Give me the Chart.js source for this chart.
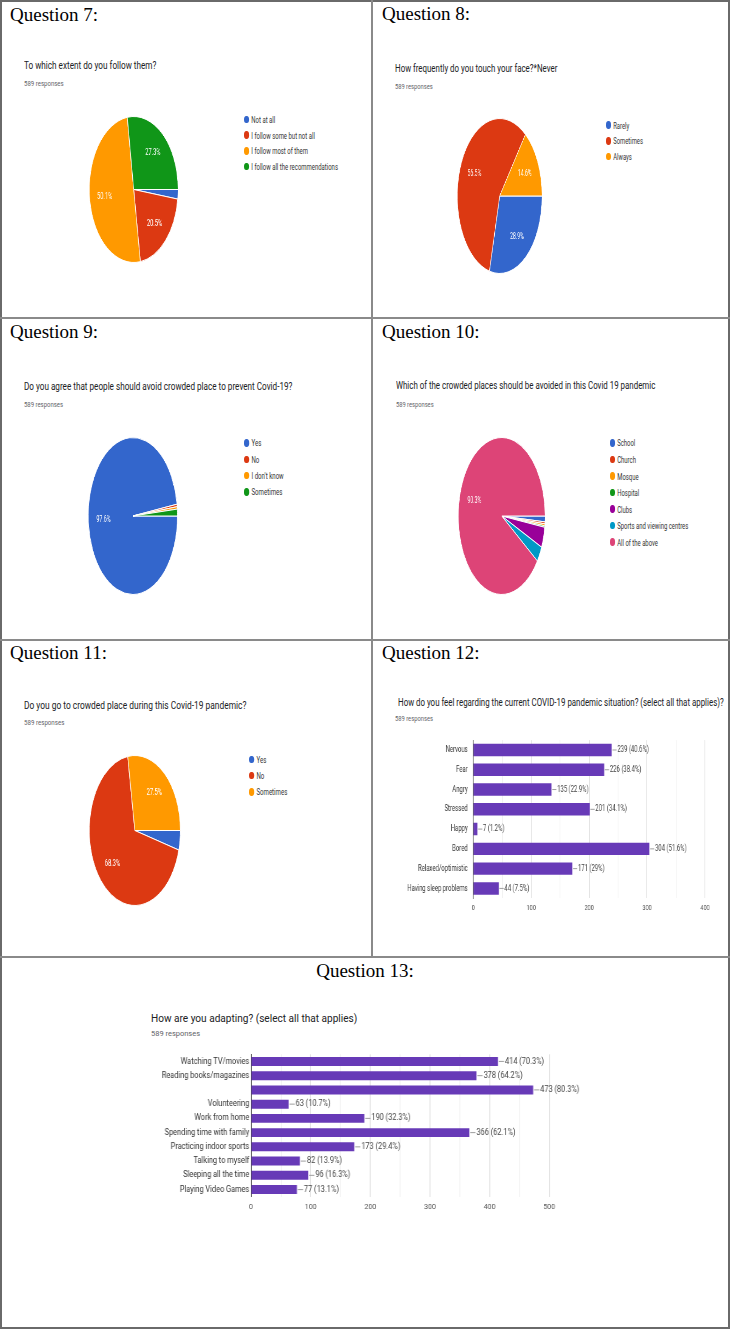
<!DOCTYPE html>
<html>
<head>
<meta charset="utf-8">
<script src="https://cdn.jsdelivr.net/npm/chart.js@4.4.1/dist/chart.umd.min.js"></script>
<style>
  body { margin: 0; background: #fff; }
  #page { position: relative; width: 730px; height: 1329px; overflow: hidden; font-family: Roboto, sans-serif; }
  .frame { position: absolute; left: 0; top: 0; width: 730px; height: 1329px; box-sizing: border-box; border: 2px solid #6a6a6a; }
  .line { position: absolute; background: #8a8a8a; }
  .q { position: absolute; font-family: "Liberation Serif", "Times New Roman", serif; font-size: 19px; line-height: 19px; color: #000; white-space: nowrap; }
  .t { position: absolute; white-space: nowrap; line-height: 1; transform-origin: 0 0; }
  .title { color: #202124; }
  .sub { color: #5f6368; }
  .legend { position: absolute; transform-origin: 0 0; color: #333; white-space: nowrap; }
  .legend .row { display: flex; align-items: center; }
  .legend .dot { width: 7.5px; height: 7.5px; border-radius: 50%; margin-right: 4px; flex: none; }
  .box { position: absolute; transform-origin: 0 0; }
</style>
</head>
<body>
<div id="page">
  <div class="frame"></div>
  <div class="line" style="left:371px; top:0; width:2px; height:958px;"></div>
  <div class="line" style="left:0; top:317px; width:730px; height:2px;"></div>
  <div class="line" style="left:0; top:639px; width:730px; height:2px;"></div>
  <div class="line" style="left:0; top:956px; width:730px; height:2px;"></div>

  <div class="q" style="left:10px; top:5px;">Question 7:</div>
  <div class="q" style="left:382px; top:4px;">Question 8:</div>
  <div class="q" style="left:10px; top:322px;">Question 9:</div>
  <div class="q" style="left:382px; top:322px;">Question 10:</div>
  <div class="q" style="left:10px; top:643px;">Question 11:</div>
  <div class="q" style="left:382px; top:643px;">Question 12:</div>
  <div class="q" style="left:0; top:961px; width:730px; text-align:center;">Question 13:</div>

  <div class="t title" data-w="132.4" style="left:24.3px; top:61.3px; font-size:10.3px;">To which extent do you follow them?</div>
  <div class="t sub" data-w="39.7" style="left:24.3px; top:80.5px; font-size:6.5px;">589 responses</div>
  <div class="t title" data-w="162.3" style="left:395px; top:62.9px; font-size:11.7px;">How frequently do you touch your face?*Never</div>
  <div class="t sub" data-w="37.7" style="left:395px; top:83px; font-size:7.5px;">589 responses</div>
  <div class="t title" data-w="268.4" style="left:24.3px; top:380.9px; font-size:11.7px;">Do you agree that people should avoid crowded place to prevent Covid-19?</div>
  <div class="t sub" data-w="39" style="left:24.3px; top:401px; font-size:7.5px;">589 responses</div>
  <div class="t title" data-w="259.3" style="left:395.7px; top:379.9px; font-size:11.7px;">Which of the crowded places should be avoided in this Covid 19 pandemic</div>
  <div class="t sub" data-w="37.6" style="left:395.7px; top:401px; font-size:7.5px;">589 responses</div>
  <div class="t title" data-w="222.4" style="left:24.3px; top:699.5px; font-size:11.3px;">Do you go to crowded place during this Covid-19 pandemic?</div>
  <div class="t sub" data-w="40.4" style="left:24.3px; top:720.1px; font-size:7px;">589 responses</div>
  <div class="t title" data-w="325.7" style="left:398.3px; top:698px; font-size:10.3px;">How do you feel regarding the current COVID-19 pandemic situation? (select all that applies)?</div>
  <div class="t sub" data-w="38" style="left:395.3px; top:716.2px; font-size:6.5px;">589 responses</div>
  <div class="t title" data-w="206.3" style="left:151.3px; top:1014.2px; font-size:10.8px;">How are you adapting? (select all that applies)</div>
  <div class="t sub" data-w="49" style="left:151px; top:1031.1px; font-size:7px;">589 responses</div>

  <div class="legend" id="lg7" data-w="94" style="left:244.3px; top:111.4px; font-size:9.4px;"></div>
  <div class="legend" id="lg8" data-w="37" style="left:605.7px; top:117.1px; font-size:9.4px;"></div>
  <div class="legend" id="lg9" data-w="39.7" style="left:244.3px; top:434.8px; font-size:9.4px;"></div>
  <div class="legend" id="lg10" data-w="78.3" style="left:610px; top:434.7px; font-size:9.4px;"></div>
  <div class="legend" id="lg11" data-w="38.3" style="left:249px; top:751.1px; font-size:9.4px;"></div>

  <div class="box" style="left:88.7px; top:115.7px; width:147px; height:147px; transform:scaleX(0.608);"><canvas id="pie7"></canvas></div>
  <div class="box" style="left:456.7px; top:118.3px; width:156px; height:156px; transform:scaleX(0.547);"><canvas id="pie8"></canvas></div>
  <div class="box" style="left:88.3px; top:437.3px; width:158px; height:158px; transform:scaleX(0.568);"><canvas id="pie9"></canvas></div>
  <div class="box" style="left:457.7px; top:437.3px; width:158px; height:158px; transform:scaleX(0.553);"><canvas id="pie10"></canvas></div>
  <div class="box" style="left:89.3px; top:755px; width:151px; height:151px; transform:scaleX(0.607);"><canvas id="pie11"></canvas></div>

  <div class="box" style="left:400px; top:727px; width:466px; height:193px; transform:scaleX(0.7);"><canvas id="bar12"></canvas></div>
  <div class="box" style="left:140px; top:1045px; width:523px; height:175px; transform:scaleX(0.88);"><canvas id="bar13"></canvas></div>
</div>

<script>
// Question 7
const q7Labels = ['Not at all', 'I follow some but not all', 'I follow most of them', 'I follow all the recommendations'];
const q7Values = [2.1, 20.5, 50.1, 27.3];

// Question 8
const q8Labels = ['Rarely', 'Sometimes', 'Always'];
const q8Values = [28.9, 56.5, 14.6];

// Question 9
const q9Labels = ['Yes', 'No', "I don't know", 'Sometimes'];
const q9Values = [97.6, 0.5, 0.5, 1.4];

// Question 10
const q10Labels = ['School', 'Church', 'Mosque', 'Hospital', 'Clubs', 'Sports and viewing centres', 'All of the above'];
const q10Values = [1.2, 0.4, 0.4, 0.3, 4.2, 3.2, 90.3];

// Question 11
const q11Labels = ['Yes', 'No', 'Sometimes'];
const q11Values = [4.2, 68.3, 27.5];

// Question 12
const q12Labels = ['Nervous', 'Fear', 'Angry', 'Stressed', 'Happy', 'Bored', 'Relaxed/optimistic', 'Having sleep problems'];
const q12Counts = [239, 226, 135, 201, 7, 304, 171, 44];
const q12Percents = ['40.6', '38.4', '22.9', '34.1', '1.2', '51.6', '29', '7.5'];
const q12Ticks = [0, 100, 200, 300, 400];

// Question 13
const q13Labels = ['Watching TV/movies', 'Reading books/magazines', '', 'Volunteering', 'Work from home', 'Spending time with family', 'Practicing indoor sports', 'Talking to myself', 'Sleeping all the time', 'Playing Video Games'];
const q13Counts = [414, 378, 473, 63, 190, 366, 173, 82, 96, 77];
const q13Percents = ['70.3', '64.2', '80.3', '10.7', '32.3', '62.1', '29.4', '13.9', '16.3', '13.1'];
const q13Ticks = [0, 100, 200, 300, 400, 500];

const pieColors = ['#3366cc', '#dc3912', '#ff9900', '#109618', '#990099', '#0099c6', '#dd4477'];
const barColor = '#673ab7';

Chart.defaults.font.family = 'Roboto, sans-serif';
Chart.defaults.color = '#444';

// percentage text inside the bigger slices
const sliceLabels = {
    id: 'sliceLabels',
    afterDatasetsDraw(chart) {
        const ctx = chart.ctx;
        const values = chart.data.datasets[0].data;
        ctx.save();
        ctx.fillStyle = '#fff';
        ctx.font = '9.4px Roboto';
        ctx.textAlign = 'center';
        ctx.textBaseline = 'middle';
        chart.getDatasetMeta(0).data.forEach((arc, i) => {
            if (values[i] < 5) return;
            const p = arc.getProps(['x', 'y', 'startAngle', 'endAngle', 'outerRadius']);
            const mid = (p.startAngle + p.endAngle) / 2;
            const r = p.outerRadius * 0.66;
            ctx.fillText(values[i] + '%', p.x + Math.cos(mid) * r, p.y + Math.sin(mid) * r);
        });
        ctx.restore();
    }
};

function makePie(id, labels, values) {
    new Chart(document.getElementById(id), {
        type: 'pie',
        data: {
            labels: labels,
            datasets: [{
                data: values,
                backgroundColor: pieColors.slice(0, values.length),
                borderColor: '#fff',
                borderWidth: 1
            }]
        },
        options: {
            responsive: true,
            maintainAspectRatio: false,
            animation: false,
            rotation: 90,
            layout: { padding: 0 },
            plugins: {
                legend: { display: false },
                tooltip: { enabled: false }
            }
        },
        plugins: [sliceLabels]
    });
}

function makeLegend(id, labels) {
    const el = document.getElementById(id);
    const h = { lg7: 15.8, lg8: 15.85, lg9: 16.33, lg10: 16.55, lg11: 16.35 }[id];
    labels.forEach((label, i) => {
        const row = document.createElement('div');
        row.className = 'row';
        row.style.height = h + 'px';
        const dot = document.createElement('span');
        dot.className = 'dot';
        dot.style.background = pieColors[i];
        const txt = document.createElement('span');
        txt.textContent = label;
        row.appendChild(dot);
        row.appendChild(txt);
        el.appendChild(row);
    });
}

// count + percent after each bar, with a short leader line
function valueLabels(texts, size) {
    return {
        id: 'valueLabels',
        afterDatasetsDraw(chart) {
            const ctx = chart.ctx;
            ctx.save();
            ctx.font = size + 'px Roboto';
            ctx.textAlign = 'left';
            ctx.textBaseline = 'middle';
            chart.getDatasetMeta(0).data.forEach((bar, i) => {
                const p = bar.getProps(['x', 'y']);
                ctx.strokeStyle = '#9e9e9e';
                ctx.lineWidth = 1;
                ctx.beginPath();
                ctx.moveTo(p.x + 1, p.y);
                ctx.lineTo(p.x + 7, p.y);
                ctx.stroke();
                ctx.fillStyle = '#444';
                ctx.fillText(texts[i], p.x + 8, p.y);
            });
            ctx.restore();
        }
    };
}

function makeBars(id, labels, counts, percents, ticks, g) {
    const texts = counts.map((c, i) => c + ' (' + percents[i] + '%)');
    new Chart(document.getElementById(id), {
        type: 'bar',
        data: {
            labels: labels,
            datasets: [{
                data: counts,
                backgroundColor: barColor,
                categoryPercentage: 0.63,
                barPercentage: 1
            }]
        },
        options: {
            indexAxis: 'y',
            responsive: true,
            maintainAspectRatio: false,
            animation: false,
            layout: { padding: { top: g.top, right: g.right, left: 0, bottom: 0 } },
            plugins: {
                legend: { display: false },
                tooltip: { enabled: false }
            },
            scales: {
                x: {
                    min: 0,
                    max: ticks[ticks.length - 1],
                    ticks: {
                        stepSize: 50,
                        autoSkip: false,
                        maxRotation: 0,
                        padding: g.tickPad,
                        color: '#555',
                        font: { size: g.tickSize },
                        callback: v => ticks.includes(v) ? v : ''
                    },
                    grid: {
                        drawTicks: false,
                        color: c => (c.tick && c.tick.value % 100 === 0) ? '#dedede' : '#f0f0f0'
                    },
                    border: { display: false },
                    afterFit: s => { s.height = g.xh; }
                },
                y: {
                    ticks: {
                        padding: g.labelPad,
                        color: '#333',
                        autoSkip: false,
                        font: { size: g.labelSize }
                    },
                    grid: { display: false, drawTicks: false },
                    border: { display: true, color: '#444', width: 1 },
                    afterFit: s => { s.width = g.yw; }
                }
            }
        },
        plugins: [valueLabels(texts, g.labelSize)]
    });
}

makePie('pie7', q7Labels, q7Values);
makePie('pie8', q8Labels, q8Values);
makePie('pie9', q9Labels, q9Values);
makePie('pie10', q10Labels, q10Values);
makePie('pie11', q11Labels, q11Values);

makeLegend('lg7', q7Labels);
makeLegend('lg8', q8Labels);
makeLegend('lg9', q9Labels);
makeLegend('lg10', q10Labels);
makeLegend('lg11', q11Labels);

makeBars('bar12', q12Labels, q12Counts, q12Percents, q12Ticks,
    { top: 13, right: 30.3, yw: 104.7, xh: 21.7, labelPad: 8, tickPad: 4.6, tickSize: 8, labelSize: 8.5 });
makeBars('bar13', q13Labels, q13Counts, q13Percents, q13Ticks,
    { top: 9.3, right: 57.9, yw: 126.1, xh: 23.3, labelPad: 2, tickPad: 5.8, tickSize: 8, labelSize: 8.4 });

// squeeze the texts horizontally like the screenshot
document.querySelectorAll('[data-w]').forEach(el => {
    const w = el.getBoundingClientRect().width;
    el.style.transform = 'scaleX(' + (parseFloat(el.dataset.w) / w) + ')';
});
</script>
</body>
</html>
